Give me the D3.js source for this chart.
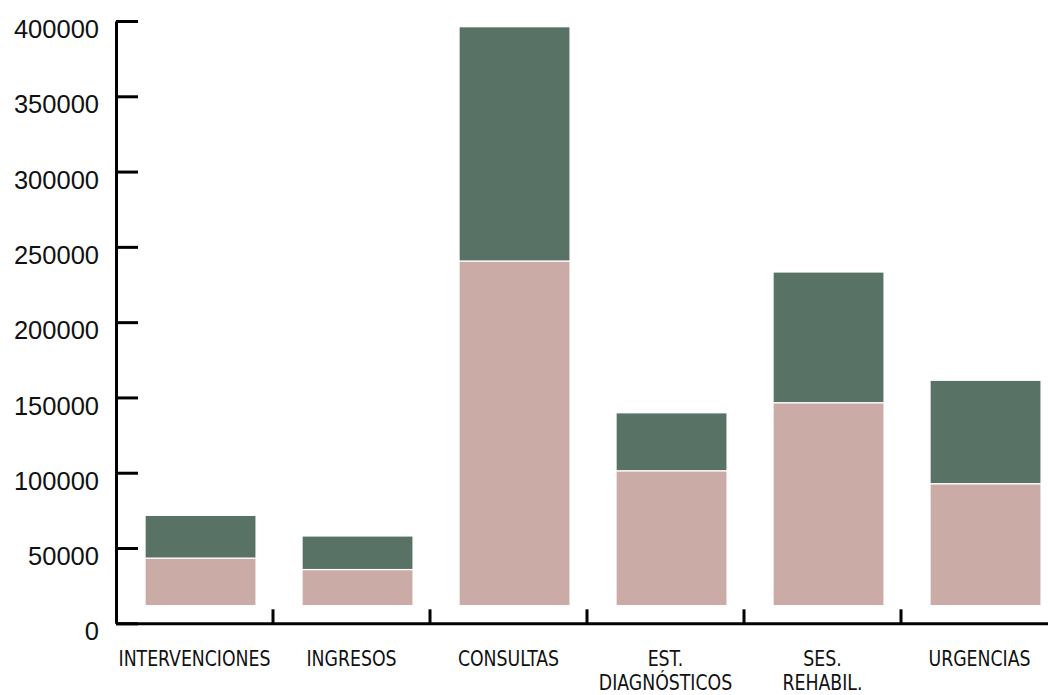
<!DOCTYPE html>
<html><head><meta charset="utf-8">
<script src="https://cdn.jsdelivr.net/npm/d3@7"></script>
<style>
html,body{margin:0;padding:0;background:#fff;}
svg{display:block;}
</style></head>
<body>
<svg id="c" width="1048" height="695"></svg>
<script>
const categories = ["INTERVENCIONES","INGRESOS","CONSULTAS","EST.\nDIAGNÓSTICOS","SES.\nREHABIL.","URGENCIAS"];
const baseValue = 11700;
const lowerValues = [43300, 35700, 240600, 101300, 146500, 92700];
const upperValues = [71700, 58000, 396200, 139800, 233300, 161400];
const yTicks = [0,50000,100000,150000,200000,250000,300000,350000,400000];

const svg = d3.select("#c");
const mLeft = 116, mTop = 21, mBottom = 623.3;
const x = d3.scaleBand().domain(categories).range([mLeft, mLeft + 157*6]).padding(0);
const y = d3.scaleLinear().domain([0, 400000]).range([mBottom, mTop]);
const bw = x.bandwidth();
const barOff = bw*0.185, barW = bw*0.707;

const green = "#587365", pink = "#caaba6";

const g = svg.append("g");
categories.forEach((c,i)=>{
  g.append("rect").attr("x", x(c)+barOff).attr("width", barW)
    .attr("y", y(lowerValues[i])).attr("height", y(baseValue)-y(lowerValues[i]))
    .attr("fill", pink).attr("stroke","#fff").attr("stroke-width",1.2);
  g.append("rect").attr("x", x(c)+barOff).attr("width", barW)
    .attr("y", y(upperValues[i])).attr("height", y(lowerValues[i])-y(upperValues[i]))
    .attr("fill", green).attr("stroke","#fff").attr("stroke-width",1.2);
});

// y axis
const ya = svg.append("g").attr("transform",`translate(${mLeft},0)`)
  .call(d3.axisLeft(y).tickValues(yTicks).tickSize(-22).tickSizeOuter(0).tickPadding(17).tickFormat(d3.format("d")));
ya.select(".domain").attr("stroke","#000").attr("stroke-width",3);
ya.selectAll(".tick line").attr("stroke","#000").attr("stroke-width",3);
ya.selectAll(".tick text").attr("fill","#111").attr("dy","16.6px")
  .style("font-family","'Liberation Sans', Arial, Helvetica, sans-serif").style("font-size","25.5px")
  .attr("x",-17);

// x axis
const xa = svg.append("g").attr("transform",`translate(0,${mBottom})`)
  .call(d3.axisBottom(x).tickSize(-14).tickSizeOuter(0).tickPadding(0));
xa.select(".domain").attr("stroke","#000").attr("stroke-width",3);
xa.selectAll(".tick line").attr("stroke","#000").attr("stroke-width",3)
  .attr("transform",`translate(${bw/2},0)`);
xa.selectAll(".tick text").each(function(d){
  const t = d3.select(this);
  t.text(null).attr("y",0).attr("dy",null).attr("fill","#111")
   .attr("transform","scale(0.875,1)")
   .style("font-family","'DejaVu Sans Condensed','DejaVu Sans',sans-serif")
   .style("font-stretch","condensed").style("font-size","22px");
  d.split("\n").forEach((line,k)=>{
    t.append("tspan").attr("x",0).attr("y",43+24*k).text(line);
  });
});
</script>
</body></html>
